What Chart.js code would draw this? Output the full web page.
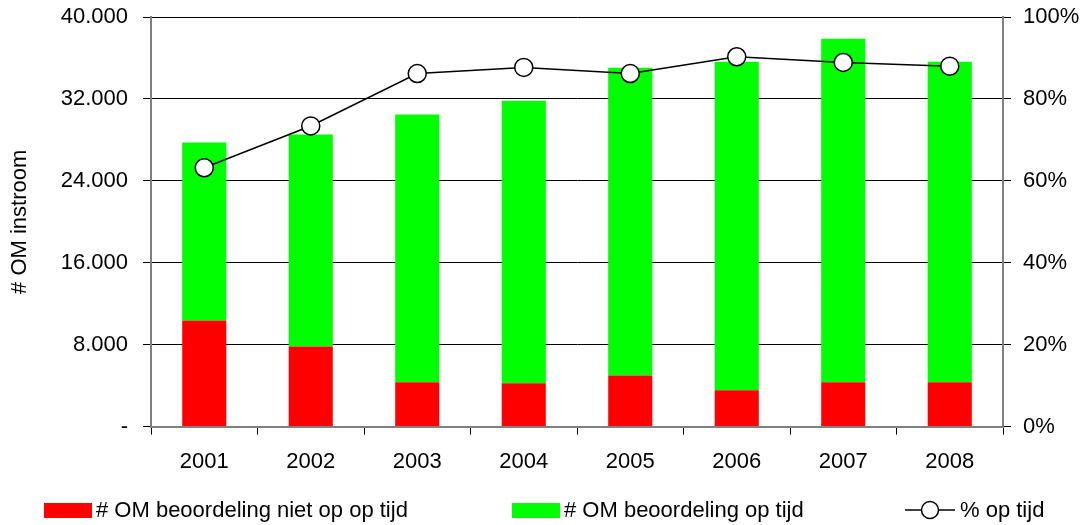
<!DOCTYPE html>
<html><head><meta charset="utf-8">
<script src="https://cdn.jsdelivr.net/npm/chart.js@4.4.1/dist/chart.umd.min.js"></script>
<style>
html,body{margin:0;padding:0;background:#fff;}
#wrap{position:relative;width:1091px;height:525px;overflow:hidden;}
#c{position:absolute;left:0;top:0;}
#legend{position:absolute;left:0;top:496px;width:1091px;height:28px;font:22px "Liberation Sans",Arial,sans-serif;color:#000;}
.item{position:absolute;top:0;height:28px;display:flex;align-items:center;white-space:nowrap;}
.box{width:48px;height:15px;margin-right:4px;}
.sym{margin-right:5px;}
</style></head>
<body><div id="wrap"><canvas id="c" width="1091" height="525"></canvas><div id="legend"></div></div>
<script>
const years = ['2001', '2002', '2003', '2004', '2005', '2006', '2007', '2008'];
const nietOpTijd = [10370, 7830, 4320, 4230, 5000, 3540, 4320, 4320];
const opTijd = [17380, 20690, 26150, 27600, 30050, 32100, 33560, 31320];
const pctOpTijd = [63.2, 73.4, 86.2, 87.7, 86.2, 90.3, 88.9, 88.0];
const seriesNames = ['# OM beoordeling niet op op tijd', '# OM beoordeling op tijd', '% op tijd'];
const seriesColors = ['#ff0000', '#00ff00', '#000000'];
const leftAxisTitle = '# OM instroom';

const FONT = '"Liberation Sans", Arial, sans-serif';
Chart.defaults.font.family = FONT;
Chart.defaults.font.size = 22;
Chart.defaults.color = '#000';

function fmtNL(v) {
  if (v === 0) return '-';
  return String(v).replace(/\B(?=(\d{3})+(?!\d))/g, '.');
}

const chart = new Chart(document.getElementById('c'), {
  data: {
    labels: years,
    datasets: [
      { type: 'line', label: seriesNames[2], data: pctOpTijd, yAxisID: 'y1', order: 0,
        borderColor: seriesColors[2], borderWidth: 1.5, tension: 0,
        pointRadius: 9, pointBackgroundColor: '#fff', pointBorderColor: '#000', pointBorderWidth: 1.5 },
      { type: 'bar', label: seriesNames[0], data: nietOpTijd, yAxisID: 'y', order: 1,
        backgroundColor: seriesColors[0], stack: 's', barPercentage: 0.414, categoryPercentage: 1 },
      { type: 'bar', label: seriesNames[1], data: opTijd, yAxisID: 'y', order: 1,
        backgroundColor: seriesColors[1], stack: 's', barPercentage: 0.414, categoryPercentage: 1 }
    ]
  },
  options: {
    responsive: false, animation: false, devicePixelRatio: 1,
    layout: { padding: { top: 17, bottom: 36, left: 0, right: 0 } },
    plugins: { legend: { display: false }, tooltip: { enabled: false } },
    scales: {
      x: {
        stacked: true, offset: true,
        grid: { offset: true, drawOnChartArea: false, tickLength: 8, color: '#000', lineWidth: 1 },
        border: { color: '#808080', width: 2 },
        ticks: { color: '#000', font: { size: 22 }, padding: 14 }
      },
      y: {
        stacked: true, position: 'left', min: 0, max: 40000,
        ticks: { stepSize: 8000, callback: v => fmtNL(v), padding: 15, color: '#000', font: { size: 22 } },
        grid: { color: '#000', lineWidth: 1, tickLength: 8 },
        border: { color: '#808080', width: 2 },
        title: { display: true, text: leftAxisTitle, color: '#000', font: { size: 22 }, padding: { top: 7, bottom: 0 } },
        afterFit: s => { s.width = 151; s.paddingTop = 0; s.paddingBottom = 0; }
      },
      y1: {
        position: 'right', min: 0, max: 100,
        ticks: { stepSize: 20, callback: v => v + '%', padding: 12, color: '#000', font: { size: 22 } },
        grid: { drawOnChartArea: false, color: '#000', lineWidth: 1, tickLength: 8 },
        border: { color: '#808080', width: 2 },
        afterFit: s => { s.width = 88; s.paddingTop = 0; s.paddingBottom = 0; }
      }
    }
  }
});

// HTML legend built from the chart's datasets
const legendEl = document.getElementById('legend');
const lefts = [44, 512, 905];
const order = [1, 2, 0];
order.forEach((di, i) => {
  const ds = chart.data.datasets[di];
  const it = document.createElement('div');
  it.className = 'item';
  it.style.left = lefts[i] + 'px';
  if (ds.type === 'bar') {
    const b = document.createElement('span');
    b.className = 'box';
    b.style.background = ds.backgroundColor;
    it.appendChild(b);
  } else {
    const ns = 'http://www.w3.org/2000/svg';
    const svg = document.createElementNS(ns, 'svg');
    svg.setAttribute('width', '50'); svg.setAttribute('height', '22');
    svg.setAttribute('class', 'sym');
    const ln = document.createElementNS(ns, 'line');
    ln.setAttribute('x1', '0'); ln.setAttribute('x2', '50'); ln.setAttribute('y1', '11'); ln.setAttribute('y2', '11');
    ln.setAttribute('stroke', '#000'); ln.setAttribute('stroke-width', '1.5');
    const c = document.createElementNS(ns, 'circle');
    c.setAttribute('cx', '25'); c.setAttribute('cy', '11'); c.setAttribute('r', '8.5');
    c.setAttribute('fill', '#fff'); c.setAttribute('stroke', '#000'); c.setAttribute('stroke-width', '1.5');
    svg.appendChild(ln); svg.appendChild(c);
    it.appendChild(svg);
  }
  const t = document.createElement('span');
  t.textContent = ds.label;
  it.appendChild(t);
  legendEl.appendChild(it);
});
</script>
</body></html>
